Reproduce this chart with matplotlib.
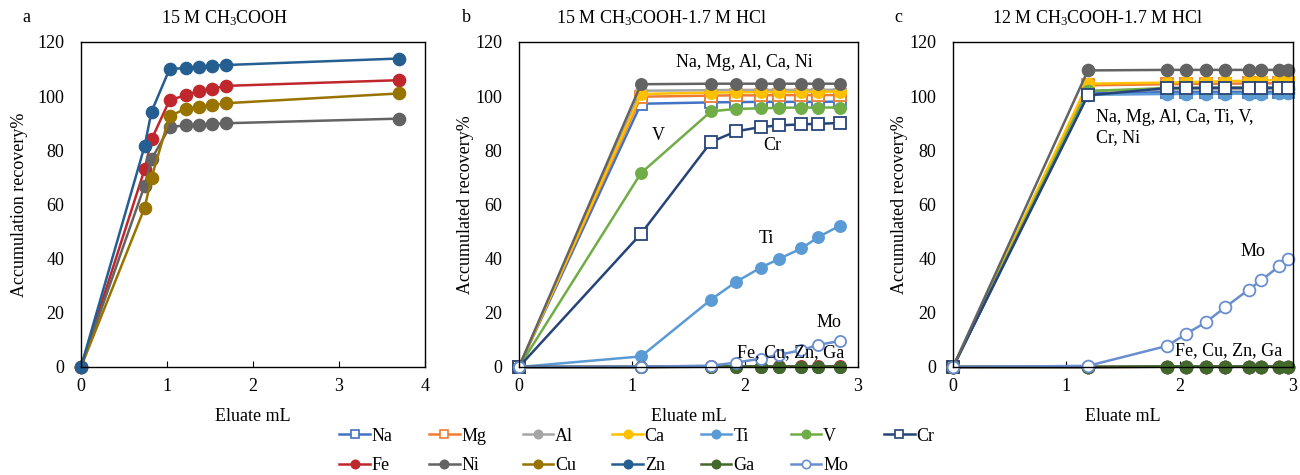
"""Accumulated recovery of elements vs. eluate volume for three eluents"""

import matplotlib
matplotlib.use('Agg')
from matplotlib import pyplot as plt

plt.rcParams['font.family'] = ['Liberation Serif', 'DejaVu Serif']
plt.rcParams['font.size'] = 13
plt.rcParams['mathtext.fontset'] = 'custom'
plt.rcParams['mathtext.rm'] = 'Liberation Serif'
plt.rcParams['mathtext.default'] = 'regular'

# element styles: colour, marker, filled
elements = ['Na', 'Mg', 'Al', 'Ca', 'Ti', 'V', 'Cr', 'Fe', 'Ni', 'Cu', 'Zn', 'Ga', 'Mo']
colors = ['#4472C4', '#ED7D31', '#A5A5A5', '#FFC000', '#5B9BD5', '#70AD47', '#264478',
          '#C0272D', '#636363', '#997300', '#255E91', '#43682B', '#698ED0']
markers = ['s', 's', 'o', 'o', 'o', 'o', 's', 'o', 'o', 'o', 'o', 'o', 'o']
filled = [False, False, True, True, True, True, False, True, True, True, True, True, False]

# panel a: 15 M CH3COOH
x_a = [0, 0.74, 0.82, 1.03, 1.22, 1.37, 1.52, 1.69, 3.70]
a_Fe = [0, 73.0, 84.0, 98.5, 100.4, 101.9, 102.8, 103.8, 105.9]
a_Ni = [0, 67.0, 76.7, 88.6, 89.2, 89.5, 89.7, 90.0, 91.7]
a_Cu = [0, 58.8, 69.9, 92.6, 95.4, 96.1, 96.7, 97.4, 101.0]
a_Zn = [0, 81.6, 94.3, 110.0, 110.4, 110.8, 111.3, 111.5, 113.9]

# panel b: 15 M CH3COOH-1.7 M HCl
x_b = [0, 1.08, 1.70, 1.92, 2.14, 2.30, 2.50, 2.65, 2.84]
b_Na = [0, 97.2, 97.7, 97.8, 97.9, 97.9, 97.9, 97.9, 98.0]
b_Mg = [0, 99.8, 100.2, 100.3, 100.3, 100.4, 100.4, 100.4, 100.4]
b_Al = [0, 102.0, 102.2, 102.3, 102.3, 102.3, 102.3, 102.3, 102.4]
b_Ca = [0, 100.8, 101.3, 101.4, 101.5, 101.5, 101.6, 101.6, 101.7]
b_Ti = [0, 3.9, 24.9, 31.4, 36.7, 39.9, 43.8, 48.0, 52.2]
b_V = [0, 71.6, 94.4, 95.3, 95.5, 95.7, 95.8, 95.8, 95.8]
b_Cr = [0, 49.2, 83.1, 87.0, 88.6, 89.2, 89.6, 89.8, 90.1]
b_Fe = [0, 0, 0.2, 0.2, 0.2, 0.2, 0.2, 0.2, 0.2]
b_Ni = [0, 104.4, 104.6, 104.6, 104.6, 104.6, 104.6, 104.6, 104.6]
b_Cu = [0, 0, 0.1, 0.1, 0.1, 0.1, 0.1, 0.1, 0.1]
b_Zn = [0, 0, 0.1, 0.1, 0.1, 0.1, 0.1, 0.1, 0.1]
b_Ga = [0, 0, 0.1, 0.1, 0.1, 0.1, 0.1, 0.1, 0.1]
b_Mo = [0, 0.1, 0.5, 1.6, 3.1, 4.5, 6.2, 8.2, 9.6]

# panel c: 12 M CH3COOH-1.7 M HCl
x_c = [0, 1.19, 1.89, 2.06, 2.23, 2.40, 2.61, 2.72, 2.88, 2.96]
c_Na = [0, 101.0, 101.5, 101.5, 101.5, 101.5, 101.5, 101.5, 101.5, 101.5]
c_Mg = [0, 104.0, 104.4, 104.5, 104.5, 104.6, 104.7, 104.7, 104.8, 104.8]
c_Al = [0, 102.0, 102.4, 102.5, 102.5, 102.5, 102.5, 102.5, 102.6, 102.6]
c_Ca = [0, 104.6, 105.0, 105.2, 105.3, 105.5, 105.7, 105.8, 106.0, 106.1]
c_Ti = [0, 100.5, 100.8, 100.8, 100.9, 100.9, 100.9, 100.9, 101.0, 101.0]
c_V = [0, 101.9, 103.0, 103.0, 103.1, 103.1, 103.1, 103.1, 103.1, 103.1]
c_Cr = [0, 100.3, 103.0, 103.0, 103.1, 103.1, 103.1, 103.1, 103.1, 103.1]
c_Fe = [0, 0, 0.1, 0.1, 0.1, 0.1, 0.1, 0.1, 0.1, 0.1]
c_Ni = [0, 109.5, 109.7, 109.7, 109.7, 109.7, 109.7, 109.7, 109.7, 109.7]
c_Cu = [0, 0, 0.1, 0.1, 0.1, 0.1, 0.1, 0.1, 0.1, 0.1]
c_Zn = [0, 0, 0.1, 0.1, 0.1, 0.1, 0.1, 0.1, 0.1, 0.1]
c_Ga = [0, 0, 0.1, 0.1, 0.1, 0.1, 0.1, 0.1, 0.1, 0.1]
c_Mo = [0, 0.4, 7.8, 12.3, 16.5, 22.0, 28.6, 32.0, 37.3, 40.0]

panel_a = {'Fe': a_Fe, 'Ni': a_Ni, 'Cu': a_Cu, 'Zn': a_Zn}
panel_b = dict(zip(elements, [b_Na, b_Mg, b_Al, b_Ca, b_Ti, b_V, b_Cr, b_Fe, b_Ni,
                              b_Cu, b_Zn, b_Ga, b_Mo]))
panel_c = dict(zip(elements, [c_Na, c_Mg, c_Al, c_Ca, c_Ti, c_V, c_Cr, c_Fe, c_Ni,
                              c_Cu, c_Zn, c_Ga, c_Mo]))

fig = plt.figure(figsize=(13, 4.75), dpi=100)
ax_a = fig.add_axes([0.0623, 0.2274, 0.2646, 0.6842])
ax_b = fig.add_axes([0.3992, 0.2274, 0.2608, 0.6842])
ax_c = fig.add_axes([0.7331, 0.2274, 0.2615, 0.6842])


def draw(ax, x, data, ms):
    handles = {}
    for name, col, mk, fill in zip(elements, colors, markers, filled):
        if name not in data:
            continue
        line, = ax.plot(x, data[name], color=col, lw=1.8, marker=mk, ms=ms,
                        mfc=col if fill else 'white', mec=col, mew=1.3, label=name)
        handles[name] = line
    return handles


draw(ax_a, x_a, panel_a, 8.5)
handles = draw(ax_b, x_b, panel_b, 8)
draw(ax_c, x_c, panel_c, 8.5)

ax_a.set_xlim(0, 4)
ax_a.set_xticks(range(0, 5))
ax_b.set_xlim(0, 3)
ax_b.set_xticks(range(0, 4))
ax_c.set_xlim(0, 3)
ax_c.set_xticks(range(0, 4))
for ax in (ax_a, ax_b, ax_c):
    ax.set_ylim(0, 120)
    ax.set_yticks(range(0, 121, 20))
    ax.tick_params(axis='y', length=0, pad=12)
    ax.tick_params(axis='x', direction='in', length=4, pad=8)
    for sp in ax.spines.values():
        sp.set_linewidth(1.0)
    ax.set_xlabel('Eluate mL')
    ax.xaxis.set_label_coords(0.5, -0.125)
    for art in ax.get_lines():
        art.set_clip_on(False)

ax_a.set_ylabel('Accumulation recovery%')
ax_a.yaxis.set_label_coords(-0.154, 0.5)
ax_b.set_ylabel('Accumulated recovery%')
ax_b.yaxis.set_label_coords(-0.133, 0.5)
ax_c.set_ylabel('Accumulated recovery%')
ax_c.yaxis.set_label_coords(-0.133, 0.5)

# titles and panel letters
fig.text(225 / 1300, 1 - 18 / 475, '15 M CH$_3$COOH', ha='center', va='center')
fig.text(662 / 1300, 1 - 18 / 475, '15 M CH$_3$COOH-1.7 M HCl', ha='center', va='center')
fig.text(1098 / 1300, 1 - 18 / 475, '12 M CH$_3$COOH-1.7 M HCl', ha='center', va='center')
fig.text(26 / 1300, 1 - 18 / 475, 'a', ha='center', va='center')
fig.text(466 / 1300, 1 - 18 / 475, 'b', ha='center', va='center')
fig.text(898 / 1300, 1 - 18 / 475, 'c', ha='center', va='center')

# annotations
ax_b.text(1.99, 112.6, 'Na, Mg, Al, Ca, Ni', ha='center', va='center')
ax_b.text(1.23, 85.5, 'V', ha='center', va='center')
ax_b.text(2.24, 81.6, 'Cr', ha='center', va='center')
ax_b.text(2.19, 47.4, 'Ti', ha='center', va='center')
ax_b.text(2.74, 16.6, 'Mo', ha='center', va='center')
ax_b.text(2.40, 5.3, 'Fe, Cu, Zn, Ga', ha='center', va='center')

ax_c.text(1.264, 92.3, 'Na, Mg, Al, Ca, Ti, V,', ha='left', va='center')
ax_c.text(1.264, 84.7, 'Cr, Ni', ha='left', va='center')
ax_c.text(2.65, 42.5, 'Mo', ha='center', va='center')
ax_c.text(2.43, 6.2, 'Fe, Cu, Zn, Ga', ha='center', va='center')

# legend: 2 rows x 7 columns, matplotlib fills column-wise
order = ['Na', 'Fe', 'Mg', 'Ni', 'Al', 'Cu', 'Ca', 'Zn', 'Ti', 'Ga', 'V', 'Mo', 'Cr']
leg_handles = []
for name in order:
    h = handles[name]
    proxy, = ax_b.plot([], [], color=h.get_color(), lw=1.8, marker=h.get_marker(), ms=6,
                       mfc=h.get_markerfacecolor(), mec=h.get_markeredgecolor(), mew=1.2)
    leg_handles.append(proxy)
fig.legend(leg_handles, order, loc='center', bbox_to_anchor=(0.49, 1 - 451 / 475),
           ncol=7, frameon=False, handlelength=1.7, handletextpad=0.1,
           columnspacing=2.0, labelspacing=0.7)

fig.savefig('out.png', dpi=100)
